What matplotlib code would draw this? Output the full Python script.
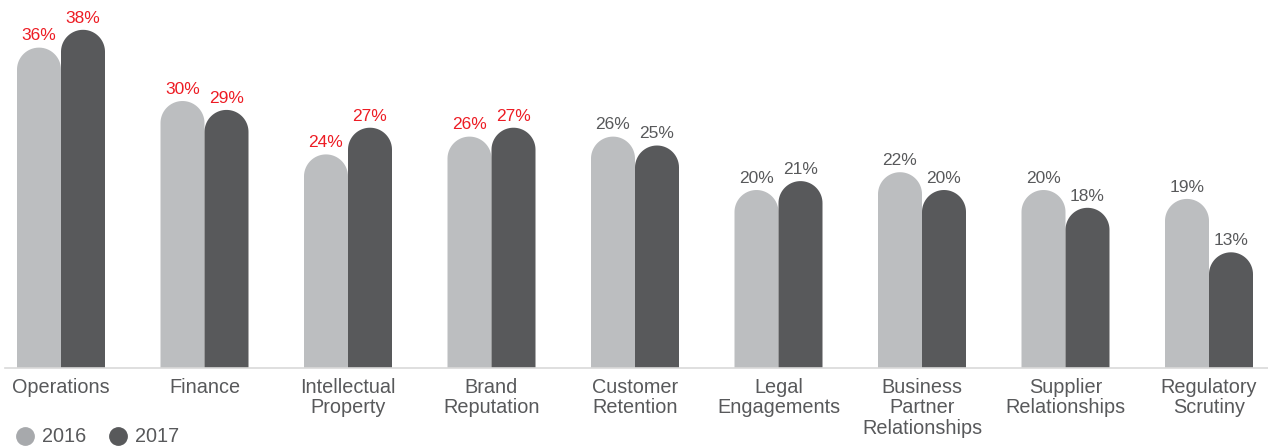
import numpy as np
import matplotlib
matplotlib.use("Agg")
import matplotlib.pyplot as plt
from matplotlib.path import Path
from matplotlib.patches import PathPatch
from matplotlib.lines import Line2D

plt.rcParams['font.family'] = ['Liberation Sans', 'DejaVu Sans']

# -- data --
categories = ['Operations', 'Finance', 'Intellectual\nProperty', 'Brand\nReputation',
              'Customer\nRetention', 'Legal\nEngagements', 'Business\nPartner\nRelationships',
              'Supplier\nRelationships', 'Regulatory\nScrutiny']
vals_2016 = [36, 30, 24, 26, 26, 20, 22, 20, 19]
vals_2017 = [38, 29, 27, 27, 25, 21, 20, 18, 13]
highlight = [True, True, True, True, False, False, False, False, False]
series = ['2016', '2017']

c16 = '#bcbec0'
c17 = '#58595b'
red = '#ed1c24'
txt = '#58595b'

W, H = 1268, 446
fig = plt.figure(figsize=(W / 100, H / 100), dpi=100)
ax_left, ax_bottom, ax_w, ax_h = 5, 78, 1263, 368
ax = fig.add_axes([ax_left / W, ax_bottom / H, ax_w / W, ax_h / H])

pitch = 143.5          # px between groups
px0 = 61               # px of first group centre
ymax = 41.35
ax.set_xlim((ax_left - px0) / pitch, (ax_left + ax_w - px0) / pitch)
ax.set_ylim(0, ymax)
ax.axis('off')

bw = 44 / pitch
rx = bw / 2
ry = 22 * ymax / ax_h


def rounded_bar(xc, h, color):
    x0, x1 = xc - rx, xc + rx
    t = np.linspace(np.pi, 0, 40)
    pts = [(x0, 0), (x0, h - ry)]
    pts += list(zip(xc + rx * np.cos(t), h - ry + ry * np.sin(t)))
    pts += [(x1, 0), (x0, 0)]
    codes = [Path.MOVETO] + [Path.LINETO] * (len(pts) - 2) + [Path.CLOSEPOLY]
    ax.add_patch(PathPatch(Path(pts, codes), facecolor=color, edgecolor='none'))


x = np.arange(len(categories))
for i in x:
    for xc, v, col in [(i - rx, vals_2016[i], c16), (i + rx, vals_2017[i], c17)]:
        rounded_bar(xc, v, col)
        ax.annotate(f'{v}%', (xc, v), xytext=(0, 3), textcoords='offset points',
                    ha='center', va='bottom', fontsize=12.5,
                    color=red if highlight[i] else txt)
    ax.text(i, -1.1, categories[i], ha='center', va='top', fontsize=14.3,
            color=txt, linespacing=1.1)

ax.axhline(0, color='#d9d9d9', lw=1.2, clip_on=False)

# legend (placed by hand)
for (cx, tx), lab, col in zip([(25, 42), (118, 135)], series, ['#a7a9ac', c17]):
    fig.add_artist(Line2D([cx / W], [1 - 436 / H], marker='o', ls='none', ms=12.5,
                          color=col, transform=fig.transFigure))
    fig.text(tx / W, 1 - 436 / H, lab, ha='left', va='center', fontsize=14.3, color=txt)

fig.savefig('out.png', dpi=100)
